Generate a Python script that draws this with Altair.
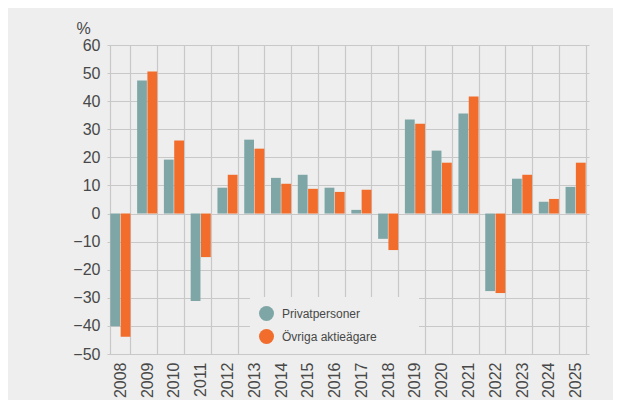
import altair as alt
import pandas as pd

years = [str(y) for y in range(2008, 2026)]
privat = [-40.1, 47.4, 19.2, -31.1, 9.2, 26.3, 12.7, 13.8, 9.2, 1.3, -9.0, 33.5, 22.4, 35.6, -27.6, 12.4, 4.2, 9.5]
ovriga = [-43.9, 50.6, 26.0, -15.5, 13.8, 23.1, 10.6, 8.8, 7.7, 8.5, -13.0, 32.0, 18.1, 41.7, -28.3, 13.8, 5.2, 18.1]
series = ["Privatpersoner", "Övriga aktieägare"]
colors = ["#7fa6a6", "#f26c2b"]
y_ticks = list(range(-50, 61, 10))

rows = []
for i, yr in enumerate(years):
    rows.append({"year": yr, "serie": series[0], "value": privat[i]})
    rows.append({"year": yr, "serie": series[1], "value": ovriga[i]})
df = pd.DataFrame(rows)

BG = "#edeeed"
GRID = "#c8c8c8"
TXT = "#484848"
FONT = "Liberation Sans"

chart = (
    alt.Chart(df)
    .mark_bar()
    .encode(
        x=alt.X(
            "year:N",
            sort=years,
            scale=alt.Scale(paddingInner=0.25, paddingOuter=0.125),
            axis=alt.Axis(
                title=None,
                labelAngle=-90,
                labelAlign="right",
                labelBaseline="middle",
                labelPadding=8,
                labelFontSize=16,
                labelColor=TXT,
                labelFont=FONT,
                ticks=False,
                domain=False,
                grid=True,
                gridColor=GRID,
                gridWidth=1.2,
                tickBand="extent",
            ),
        ),
        xOffset=alt.XOffset("serie:N", sort=series, scale=alt.Scale(paddingInner=0.05)),
        y=alt.Y(
            "value:Q",
            scale=alt.Scale(domain=[-50, 60], nice=False, zero=False),
            axis=alt.Axis(
                values=y_ticks,
                title="%",
                titleAngle=0,
                titleX=-24,
                titleY=-12,
                titleAlign="center",
                titleBaseline="alphabetic",
                titleFontSize=16,
                titleFontWeight="normal",
                titleColor=TXT,
                titleFont=FONT,
                labelFontSize=16,
                labelColor=TXT,
                labelFont=FONT,
                labelPadding=7,
                ticks=False,
                domain=False,
                grid=True,
                gridColor=GRID,
                gridWidth=1.2,
            ),
        ),
        color=alt.Color(
            "serie:N",
            sort=series,
            scale=alt.Scale(domain=series, range=colors),
            legend=alt.Legend(
                title="MMM",
                titleOrient="right",
                titleColor=BG,
                titleFontSize=12,
                titlePadding=2,
                orient="none",
                legendX=143,
                legendY=252,
                padding=9,
                fillColor=BG,
                strokeColor=BG,
                symbolType="circle",
                symbolSize=225,
                symbolStrokeWidth=0,
                symbolOpacity=1,
                labelFontSize=12,
                labelColor=TXT,
                labelFont=FONT,
                labelOffset=8,
                rowPadding=8,
            ),
        ),
    )
    .properties(
        width=482,
        height=309,
        background=BG,
        padding={"left": 99, "top": 37, "right": 24, "bottom": 46},
        autosize=alt.AutoSizeParams(type="none"),
    )
    .configure_view(strokeWidth=0)
)

chart.save("out.html", embed_options={"renderer": "svg", "actions": False})
